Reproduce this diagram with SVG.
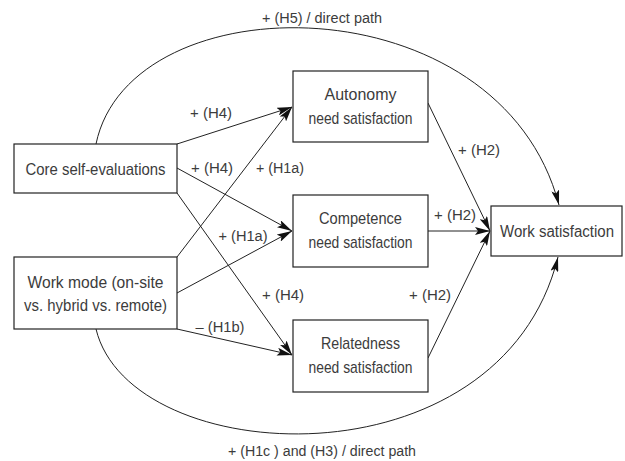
<svg xmlns="http://www.w3.org/2000/svg" width="625" height="461" viewBox="0 0 625 461">
<style>
  .box { fill: #fff; stroke: #222; stroke-width: 1.2; }
  .t { font-family: "Liberation Sans", Arial, sans-serif; font-size: 17px; fill: #3c3c3c; text-anchor: middle; }
  .l { font-family: "Liberation Sans", Arial, sans-serif; font-size: 15.5px; fill: #3c3c3c; text-anchor: middle; }
  .c { fill: none; stroke: #222; stroke-width: 1; }
</style>
<defs>
  <marker id="ah" markerUnits="userSpaceOnUse" markerWidth="16" markerHeight="8" refX="15" refY="4" orient="auto">
    <path d="M0,0 L15,4 L0,8 L3,4 z" fill="#111"/>
  </marker>
</defs>
<rect width="625" height="461" fill="#fff"/>
<g id="connectors">
  <path class="c" d="M96,144 C130,-20 500,-20 559,205" marker-end="url(#ah)"/>
  <path class="c" d="M96,329 C130,470 500,490 558,257" marker-end="url(#ah)"/>
  <line class="c" x1="177" y1="144" x2="292" y2="107" marker-end="url(#ah)"/>
  <line class="c" x1="177" y1="257" x2="292" y2="107" marker-end="url(#ah)"/>
  <line class="c" x1="177" y1="168" x2="292" y2="231" marker-end="url(#ah)"/>
  <line class="c" x1="177" y1="293" x2="292" y2="231" marker-end="url(#ah)"/>
  <line class="c" x1="177" y1="193" x2="292" y2="355" marker-end="url(#ah)"/>
  <line class="c" x1="177" y1="329" x2="292" y2="355" marker-end="url(#ah)"/>
  <line class="c" x1="428" y1="103" x2="490" y2="231" marker-end="url(#ah)"/>
  <line class="c" x1="428" y1="231" x2="490" y2="231" marker-end="url(#ah)"/>
  <line class="c" x1="428" y1="358" x2="490" y2="231" marker-end="url(#ah)"/>
</g>
<g id="labels">
  <text class="l" x="322" y="23" textLength="120" lengthAdjust="spacingAndGlyphs">+ (H5) / direct path</text>
  <text class="l" x="211" y="118" textLength="42" lengthAdjust="spacingAndGlyphs">+ (H4)</text>
  <text class="l" x="212" y="173" textLength="42" lengthAdjust="spacingAndGlyphs">+ (H4)</text>
  <text class="l" x="280" y="173" textLength="48" lengthAdjust="spacingAndGlyphs">+ (H1a)</text>
  <text class="l" x="243" y="241" textLength="49" lengthAdjust="spacingAndGlyphs">+ (H1a)</text>
  <text class="l" x="283" y="300" textLength="42" lengthAdjust="spacingAndGlyphs">+ (H4)</text>
  <text class="l" x="220" y="332" textLength="49" lengthAdjust="spacingAndGlyphs">– (H1b)</text>
  <text class="l" x="479" y="155" textLength="42" lengthAdjust="spacingAndGlyphs">+ (H2)</text>
  <text class="l" x="455" y="220" textLength="42" lengthAdjust="spacingAndGlyphs">+ (H2)</text>
  <text class="l" x="430" y="300" textLength="42" lengthAdjust="spacingAndGlyphs">+ (H2)</text>
  <text class="l" x="322" y="456" textLength="188" lengthAdjust="spacingAndGlyphs">+ (H1c ) and (H3) / direct path</text>
</g>
<g id="core">
  <rect class="box" x="14" y="144" width="163" height="49"/>
  <text class="t" x="95.5" y="175" textLength="140" lengthAdjust="spacingAndGlyphs">Core self-evaluations</text>
</g>
<g id="workmode">
  <rect class="box" x="14" y="257" width="163" height="72"/>
  <text class="t" x="95.5" y="288" textLength="136" lengthAdjust="spacingAndGlyphs">Work mode (on-site</text>
  <text class="t" x="95.5" y="311" textLength="143" lengthAdjust="spacingAndGlyphs">vs. hybrid vs. remote)</text>
</g>
<g id="autonomy">
  <rect class="box" x="293" y="71" width="135" height="71"/>
  <text class="t" x="360.5" y="100" textLength="72" lengthAdjust="spacingAndGlyphs">Autonomy</text>
  <text class="t" x="360.5" y="124" textLength="104" lengthAdjust="spacingAndGlyphs">need satisfaction</text>
</g>
<g id="competence">
  <rect class="box" x="293" y="195" width="135" height="72"/>
  <text class="t" x="360.5" y="224" textLength="83" lengthAdjust="spacingAndGlyphs">Competence</text>
  <text class="t" x="360.5" y="248" textLength="104" lengthAdjust="spacingAndGlyphs">need satisfaction</text>
</g>
<g id="relatedness">
  <rect class="box" x="293" y="320" width="135" height="72"/>
  <text class="t" x="360.5" y="349" textLength="79" lengthAdjust="spacingAndGlyphs">Relatedness</text>
  <text class="t" x="360.5" y="373" textLength="104" lengthAdjust="spacingAndGlyphs">need satisfaction</text>
</g>
<g id="worksat">
  <rect class="box" x="491" y="206" width="131" height="50"/>
  <text class="t" x="557" y="237" font-size="16" style="font-size:16px" textLength="114" lengthAdjust="spacingAndGlyphs">Work satisfaction</text>
</g>
</svg>
